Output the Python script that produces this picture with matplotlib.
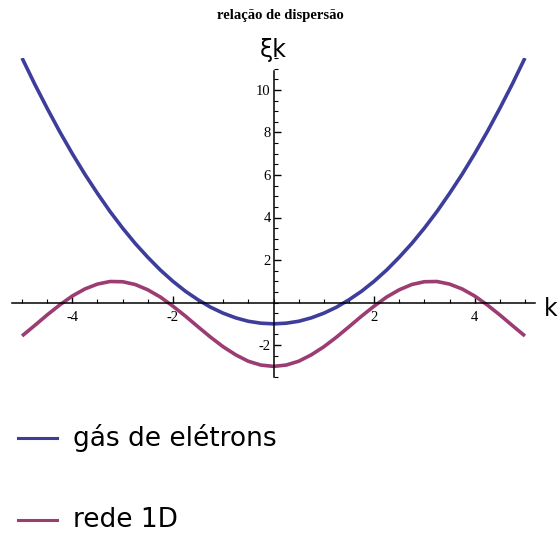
import matplotlib.pyplot as plt
import numpy as np
from matplotlib.ticker import MultipleLocator

# dispersion curves sampled every 0.25 in k
k = [-5.0, -4.75, -4.5, -4.25, -4.0, -3.75, -3.5, -3.25, -3.0, -2.75, -2.5,
     -2.25, -2.0, -1.75, -1.5, -1.25, -1.0, -0.75, -0.5, -0.25, 0.0,
     0.25, 0.5, 0.75, 1.0, 1.25, 1.5, 1.75, 2.0, 2.25, 2.5,
     2.75, 3.0, 3.25, 3.5, 3.75, 4.0, 4.25, 4.5, 4.75, 5.0]

gas_eletrons = [11.5, 10.28, 9.13, 8.03, 7.0, 6.03, 5.13, 4.28, 3.5, 2.78, 2.13,
                1.53, 1.0, 0.53, 0.13, -0.22, -0.5, -0.72, -0.88, -0.97, -1.0,
                -0.97, -0.88, -0.72, -0.5, -0.22, 0.13, 0.53, 1.0, 1.53, 2.13,
                2.78, 3.5, 4.28, 5.13, 6.03, 7.0, 8.03, 9.13, 10.28, 11.5]

rede_1d = [-1.57, -1.08, -0.58, -0.11, 0.31, 0.64, 0.87, 0.99, 0.98, 0.85, 0.60,
           0.26, -0.17, -0.64, -1.14, -1.63, -2.08, -2.46, -2.76, -2.94, -3.0,
           -2.94, -2.76, -2.46, -2.08, -1.63, -1.14, -0.64, -0.17, 0.26, 0.60,
           0.85, 0.98, 0.99, 0.87, 0.64, 0.31, -0.11, -0.58, -1.08, -1.57]

labels = ['gás de elétrons', 'rede 1D']
colors = ['#3d3d9c', '#9b3d72']

W, H = 559, 536
fig = plt.figure(figsize=(W / 100, H / 100), dpi=100)
ax = fig.add_axes([12 / W, (H - 377) / H, 523 / W, 319 / H])

ax.plot(k, gas_eletrons, color=colors[0], lw=2.6, solid_capstyle='butt')
ax.plot(k, rede_1d, color=colors[1], lw=2.6, solid_capstyle='butt')

ax.set_xlim(-5.2, 5.2)
ax.set_ylim(-3.5, 11.5)

# axes through the origin
ax.spines['left'].set_position(('data', 0))
ax.spines['bottom'].set_position(('data', 0))
ax.spines['right'].set_visible(False)
ax.spines['top'].set_visible(False)
ax.spines['left'].set_bounds(-3.5, 10.9)
for s in ['left', 'bottom']:
    ax.spines[s].set_linewidth(1.1)

ax.xaxis.set_major_locator(MultipleLocator(2))
ax.xaxis.set_minor_locator(MultipleLocator(0.5))
ax.yaxis.set_major_locator(MultipleLocator(2))
ax.yaxis.set_minor_locator(MultipleLocator(0.5))
ax.tick_params(axis='both', which='both', direction='in')
ax.tick_params(which='major', length=5, width=1.0)
ax.tick_params(which='minor', length=3, width=0.8)

xt = [-4, -2, 2, 4]
yt = [-2, 2, 4, 6, 8, 10]
ax.set_xticks(xt)
ax.set_yticks(yt)
ax.set_xticklabels([str(v) for v in xt], family='Liberation Serif', fontsize=10.5)
ax.set_yticklabels([str(v) for v in yt], family='Liberation Serif', fontsize=10.5)
ax.tick_params(axis='x', pad=6)
ax.tick_params(axis='y', pad=2)

fig.text(280 / W, 1 - 16 / H, 'relação de dispersão', family='Liberation Serif',
         fontweight='bold', fontsize=10.5, ha='center', va='center')
fig.text(273 / W, 1 - 50 / H, 'ξk', fontsize=17, ha='center', va='center')
fig.text(551 / W, 1 - 309 / H, 'k', fontsize=17, ha='center', va='center')

# legend below the plot
for i, (lab, c) in enumerate(zip(labels, colors)):
    y = 1 - (438 + i * 82) / H
    fig.add_artist(plt.Line2D([18 / W, 57 / W], [y, y], color=c, lw=2.2,
                              transform=fig.transFigure))
    fig.text(73 / W, y, lab, fontsize=19, ha='left', va='center')

fig.savefig('out.png', dpi=100)
